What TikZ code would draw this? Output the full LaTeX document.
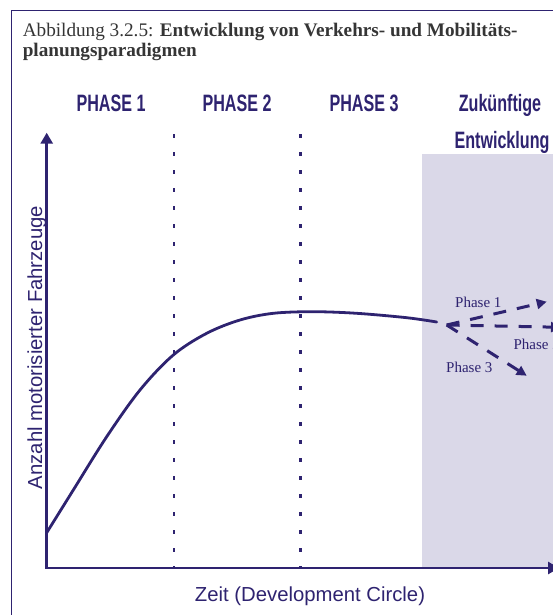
\documentclass[tikz,border=0pt]{standalone}
\usepackage{fontspec}
\setmainfont{Liberation Serif}
\newfontfamily\arialfont{Liberation Sans}
\usetikzlibrary{arrows.meta}
\definecolor{navy}{HTML}{2E2370}
\definecolor{shadebg}{HTML}{DAD8E8}
\definecolor{titlegray}{HTML}{353535}
\newcommand\hdrtext[1]{\scalebox{0.68}[1]{#1}}
\tikzset{axistip/.tip={Triangle[length=11pt,width=12pt]}}
\begin{document}
\begin{tikzpicture}[x=1pt,y=-1pt,
  titletext/.style={inner sep=0pt, anchor=base west, text=titlegray, font=\fontsize{19.2}{19}\selectfont},
  header/.style={inner sep=0pt, anchor=base, text=navy, font=\arialfont\bfseries\fontsize{23.7}{24}\selectfont},
  axislabel/.style={inner sep=0pt, anchor=base, text=navy, font=\arialfont\fontsize{20.3}{21}\selectfont},
  phaselabel/.style={inner sep=0pt, anchor=base west, text=navy, font=\fontsize{15}{15}\selectfont},
  axisline/.style={navy, line width=2.8pt, line join=miter},
  divider/.style={navy, line width=2.6pt, dash pattern=on 3.5pt off 14.5pt},
  trend/.style={navy, line width=3pt, dash pattern=on 13pt off 11pt, -{Triangle[length=10pt,width=10pt]}}
]
\useasboundingbox (0,0) rectangle (553,615);
\clip (0,0) rectangle (553,615);
% frame
\draw[navy, line width=1.5pt] (11.7,620) -- (11.7,10.6) -- (560,10.6);
% shaded future region
\fill[shadebg] (422,153.5) rectangle (560,568);
% title
\node[titletext] (t1) at (22.6,37) {Abbildung 3.2.5: \textbf{Entwicklung von Verkehrs- und Mobilitäts-}};
\node[titletext] (t2) at (22.6,56.4) {\textbf{planungsparadigmen}};
% headers
\node[header] (h1) at (111,112) {\hdrtext{PHASE 1}};
\node[header] (h2) at (237,112) {\hdrtext{PHASE 2}};
\node[header] (h3) at (364,112) {\hdrtext{PHASE 3}};
\node[header] (h4) at (500,112) {\hdrtext{Zukünftige}};
\node[header] (h5) at (502,148) {\hdrtext{Entwicklung}};
% dividers
\draw[divider] (174,134) -- (174,568);
\draw[divider] (300.7,134) -- (300.7,568);
% axes
\coordinate (ytop) at (46.7,132.7);
\coordinate (origin) at (46.7,568);
\coordinate (xend) at (559,568);
\draw[axisline, axistip-axistip] (ytop) -- (origin) -- (xend);
% axis labels
\node[axislabel, rotate=90] (ylab) at (42,347.5) {Anzahl motorisierter Fahrzeuge};
\node[axislabel] (xlab) at (310,601.6) {Zeit (Development Circle)};
% main curve
\draw[navy, line width=2.8pt, line cap=round] plot[smooth, tension=0.55] coordinates {
  (46.7,532.7) (73.3,490) (106.7,436.7) (140,390) (173.3,355) (206.7,333.3)
  (240,320) (273.3,313.3) (313.3,311.7) (356.7,313.3) (406.7,317.7) (436.7,322)};
% future trends
\coordinate (fork) at (446.7,325);
\coordinate (p1end) at (546.7,301.7);
\coordinate (p2end) at (561,327.3);
\coordinate (p3end) at (526.7,375.7);
\draw[trend] (fork) -- (p1end);
\draw[trend] (fork) -- (p2end);
\draw[trend] (fork) -- (p3end);
\node[phaselabel] (l1) at (455,307.7) {Phase 1};
\node[phaselabel] (l2) at (513.3,349) {Phase 2};
\node[phaselabel] (l3) at (446,372.3) {Phase 3};
\end{tikzpicture}
\end{document}
